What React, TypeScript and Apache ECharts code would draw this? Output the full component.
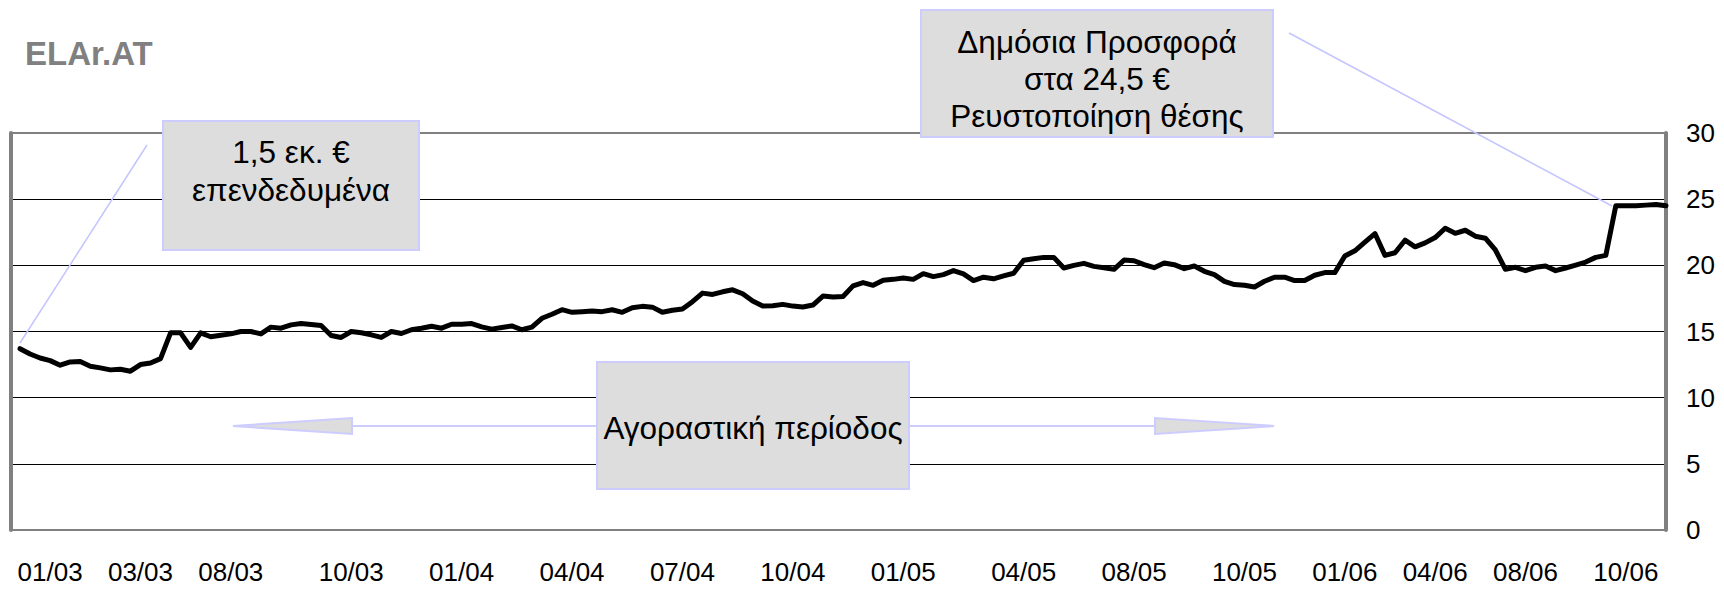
import React, { useEffect, useRef } from "react";
import * as echarts from "echarts";

// Weekly closing prices of ELAr.AT (EUR)
const prices: number[] = [
  13.7, 13.3, 13.0, 12.8, 12.45, 12.7, 12.73, 12.38, 12.25, 12.1,
  12.15, 12.0, 12.5, 12.62, 12.95, 14.9, 14.9, 13.8, 14.9, 14.6,
  14.72, 14.82, 15.0, 15.0, 14.82, 15.33, 15.25, 15.5, 15.6, 15.53,
  15.45, 14.7, 14.55, 15.0, 14.9, 14.75, 14.55, 15.0, 14.85, 15.13,
  15.25, 15.4, 15.25, 15.55, 15.55, 15.6, 15.35, 15.18, 15.3, 15.42,
  15.13, 15.33, 16.0, 16.3, 16.65, 16.45, 16.5, 16.55, 16.5, 16.64,
  16.45, 16.8, 16.9, 16.84, 16.45, 16.6, 16.7, 17.25, 17.9, 17.8,
  18.0, 18.15, 17.85, 17.3, 16.93, 16.95, 17.05, 16.92, 16.85, 17.0,
  17.68, 17.6, 17.65, 18.45, 18.7, 18.49, 18.87, 18.94, 19.04, 18.94,
  19.37, 19.15, 19.3, 19.6, 19.35, 18.85, 19.1, 18.98, 19.2, 19.4,
  20.38, 20.5, 20.6, 20.6, 19.8, 20.0, 20.15, 19.92, 19.82, 19.7,
  20.4, 20.35, 20.05, 19.82, 20.18, 20.05, 19.75, 19.95, 19.55, 19.3,
  18.79, 18.55, 18.5, 18.36, 18.8, 19.1, 19.1, 18.85, 18.85, 19.25,
  19.45, 19.45, 20.7, 21.1, 21.75, 22.4, 20.75, 20.95, 21.9, 21.4,
  21.7, 22.1, 22.8, 22.42, 22.65, 22.2, 22.05, 21.16, 19.7, 19.85,
  19.6, 19.85, 19.95, 19.6, 19.8, 20.02, 20.25, 20.6, 20.75, 24.5,
  24.5, 24.5, 24.55, 24.6, 24.5,
];

// Axis tick labels (MM/YY) and the data point at which each one sits
const tickLabels: string[] = [
  "01/03", "03/03", "08/03", "10/03", "01/04", "04/04", "07/04", "10/04",
  "01/05", "04/05", "08/05", "10/05", "01/06", "04/06", "08/06", "10/06",
];
const tickIndex: number[] = [3, 12, 21, 33, 44, 55, 66, 77, 88, 100, 111, 122, 132, 141, 150, 160];

const yTicks: number[] = [0, 5, 10, 15, 20, 25, 30];

const title = "ELAr.AT";
const noteInvest = "1,5 εκ. €\nεπενδεδυμένα";
const noteOffer = "Δημόσια Προσφορά\nστα 24,5 €\nΡευστοποίηση θέσης";
const notePeriod = "Αγοραστική περίοδος";

const FONT = "'Liberation Sans', Arial, Helvetica, sans-serif";
const BOX_FILL = "#DDDDDD";
const BOX_STROKE = "#CCCCFF";
const NOTE_FONT = `31.5px ${FONT}`;

export default function App() {
  const ref = useRef<HTMLDivElement>(null);

  useEffect(() => {
    if (!ref.current) return;
    const chart = echarts.init(ref.current, undefined, { renderer: "svg" });
    const data = prices.map((v, i) => [i, v]);

    chart.setOption({
      animation: false,
      backgroundColor: "#ffffff",
      textStyle: { fontFamily: FONT },
      grid: {
        left: 11,
        right: 58,
        top: 133,
        bottom: 59,
        show: true,
        borderColor: "#808080",
        borderWidth: 2,
        backgroundColor: "transparent",
        outerBoundsMode: "none",
        containLabel: false,
      },
      xAxis: {
        type: "value",
        min: -0.9,
        max: prices.length - 1,
        axisLine: { show: false },
        axisTick: { show: false },
        splitLine: { show: false },
        axisLabel: {
          customValues: tickIndex,
          formatter: (v: number) => {
            const k = tickIndex.indexOf(v);
            return k >= 0 ? tickLabels[k] : "";
          },
          color: "#000",
          fontSize: 26,
          fontFamily: FONT,
          margin: 29,
        },
      },
      yAxis: [
        {
          type: "value",
          position: "right",
          min: 0,
          max: 30,
          interval: 5,
          axisLine: { show: true, onZero: false, lineStyle: { color: "#808080", width: 4 } },
          axisTick: { show: false },
          splitLine: {
            show: true,
            showMinLine: false,
            showMaxLine: false,
            lineStyle: { color: "#000000", width: 1 },
          },
          axisLabel: {
            color: "#000",
            fontSize: 26,
            fontFamily: FONT,
            margin: 20,
            padding: [10, 0, 0, 0],
            formatter: (v: number) => (yTicks.includes(v) ? String(v) : ""),
          },
        },
        {
          type: "value",
          position: "left",
          min: 0,
          max: 30,
          interval: 5,
          axisLine: { show: true, onZero: false, lineStyle: { color: "#808080", width: 4 } },
          axisTick: { show: false },
          axisLabel: { show: false },
          splitLine: { show: false },
        },
      ],
      series: [
        {
          type: "line",
          data,
          yAxisIndex: 0,
          showSymbol: false,
          symbol: "none",
          lineStyle: { color: "#000000", width: 5, join: "round", cap: "round" },
          z: 5,
        },
      ],
      graphic: [
        {
          type: "text",
          left: 25,
          top: 37,
          z: 100,
          style: {
            text: title,
            fill: "#808080",
            font: `bold 33px ${FONT}`,
          },
        },
        {
          type: "line",
          z: 90,
          shape: { x1: 147, y1: 145, x2: 20, y2: 343 },
          style: { stroke: "#C4C4FF", lineWidth: 1.5 },
        },
        {
          type: "rect",
          z: 100,
          shape: { x: 163, y: 121, width: 256, height: 129 },
          style: { fill: BOX_FILL, stroke: BOX_STROKE, lineWidth: 2 },
        },
        {
          type: "text",
          z: 101,
          x: 291,
          y: 133,
          style: {
            text: noteInvest,
            fill: "#000",
            font: NOTE_FONT,
            align: "center",
            verticalAlign: "top",
            lineHeight: 38,
          },
        },
        {
          type: "line",
          z: 90,
          shape: { x1: 1289, y1: 33, x2: 1612, y2: 206 },
          style: { stroke: "#C4C4FF", lineWidth: 1.5 },
        },
        {
          type: "rect",
          z: 100,
          shape: { x: 921, y: 10, width: 352, height: 127 },
          style: { fill: BOX_FILL, stroke: BOX_STROKE, lineWidth: 2 },
        },
        {
          type: "text",
          z: 101,
          x: 1097,
          y: 23,
          style: {
            text: noteOffer,
            fill: "#000",
            font: NOTE_FONT,
            align: "center",
            verticalAlign: "top",
            lineHeight: 37,
          },
        },
        {
          type: "line",
          z: 95,
          shape: { x1: 597, y1: 426, x2: 352, y2: 426 },
          style: { stroke: BOX_STROKE, lineWidth: 2 },
        },
        {
          type: "line",
          z: 95,
          shape: { x1: 909, y1: 426, x2: 1155, y2: 426 },
          style: { stroke: BOX_STROKE, lineWidth: 2 },
        },
        {
          type: "polygon",
          z: 96,
          shape: { points: [[352, 418], [352, 434], [233, 426]] },
          style: { fill: BOX_FILL, stroke: BOX_STROKE, lineWidth: 2 },
        },
        {
          type: "polygon",
          z: 96,
          shape: { points: [[1155, 418], [1155, 434], [1274, 426]] },
          style: { fill: BOX_FILL, stroke: BOX_STROKE, lineWidth: 2 },
        },
        {
          type: "rect",
          z: 100,
          shape: { x: 597, y: 362, width: 312, height: 127 },
          style: { fill: BOX_FILL, stroke: BOX_STROKE, lineWidth: 2 },
        },
        {
          type: "text",
          z: 101,
          x: 753,
          y: 428,
          style: {
            text: notePeriod,
            fill: "#000",
            font: NOTE_FONT,
            align: "center",
            verticalAlign: "middle",
          },
        },
      ],
    });

    return () => {
      chart.dispose();
    };
  }, []);

  return (
    <div
      ref={ref}
      style={{ position: "absolute", left: 0, top: 0, width: 1724, height: 589 }}
    />
  );
}
